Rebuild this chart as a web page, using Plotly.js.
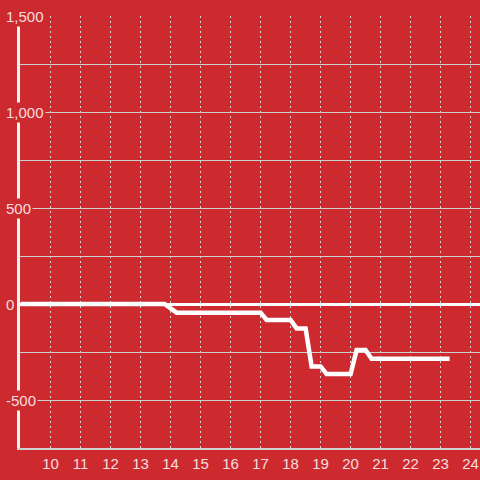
<!DOCTYPE html>
<html>
<head>
<meta charset="utf-8">
<script src="https://cdn.plot.ly/plotly-3.0.1.min.js"></script>
<style>html,body{margin:0;padding:0;background:#cc2a2f;}#chart{width:480px;height:480px;}</style>
</head>
<body>
<div id="chart"></div>
<script>
// Data (x = hour of day, y = value)
const hours  = [9.0, 13.8, 14.2, 17.0, 17.2, 18.0, 18.2, 18.5, 18.7, 19.0, 19.2, 20.0, 20.2, 20.5, 20.7, 23.3];
const values = [0,   0,    -45,  -45,  -83,  -83,  -127, -127, -325, -325, -365, -365, -240, -240, -285, -285];

const xTickVals = [10, 11, 12, 13, 14, 15, 16, 17, 18, 19, 20, 21, 22, 23, 24];
const yLabelVals = [-500, 0, 500, 1000, 1500];
const yLabelText = ['-500', '0', '500', '1,000', '1,500'];

const BG = '#cc2a2f';
const TXT = 'rgba(255,255,255,0.85)';

const trace = {
  x: hours, y: values, type: 'scatter', mode: 'lines',
  line: {color: '#ffffff', width: 4.5}, hoverinfo: 'skip'
};

const annotations = yLabelVals.map((v, i) => ({
  xref: 'paper', yref: 'y', x: -0.035, y: v, xanchor: 'left', yanchor: 'middle',
  text: yLabelText[i], showarrow: false, bgcolor: BG, borderpad: 1,
  font: {family: 'Liberation Sans, Arial, sans-serif', size: 15, color: TXT}
}));

const layout = {
  width: 480, height: 480,
  margin: {l: 20, r: 0, t: 16, b: 32, pad: 0},
  paper_bgcolor: BG, plot_bgcolor: BG,
  showlegend: false,
  xaxis: {
    range: [8.98, 24.313], tickvals: xTickVals, ticks: '',
    showgrid: true, gridcolor: '#d6d6d6', gridwidth: 1, griddash: '2px,3px',
    zeroline: false, showline: true, linecolor: '#d0d0d0', linewidth: 1.5,
    tickfont: {family: 'Liberation Sans, Arial, sans-serif', size: 15, color: TXT},
    ticklabelstandoff: 1, fixedrange: true
  },
  yaxis: {
    range: [-750, 1500], dtick: 250, tick0: 0, ticks: '',
    showticklabels: false,
    showgrid: true, gridcolor: '#cfcfcf', gridwidth: 1,
    zeroline: true, zerolinecolor: '#ffffff', zerolinewidth: 3,
    showline: true, linecolor: '#f4f4f4', linewidth: 3, fixedrange: true
  },
  annotations: annotations
};

Plotly.newPlot('chart', [trace], layout, {displayModeBar: false, staticPlot: true});
</script>
</body>
</html>
